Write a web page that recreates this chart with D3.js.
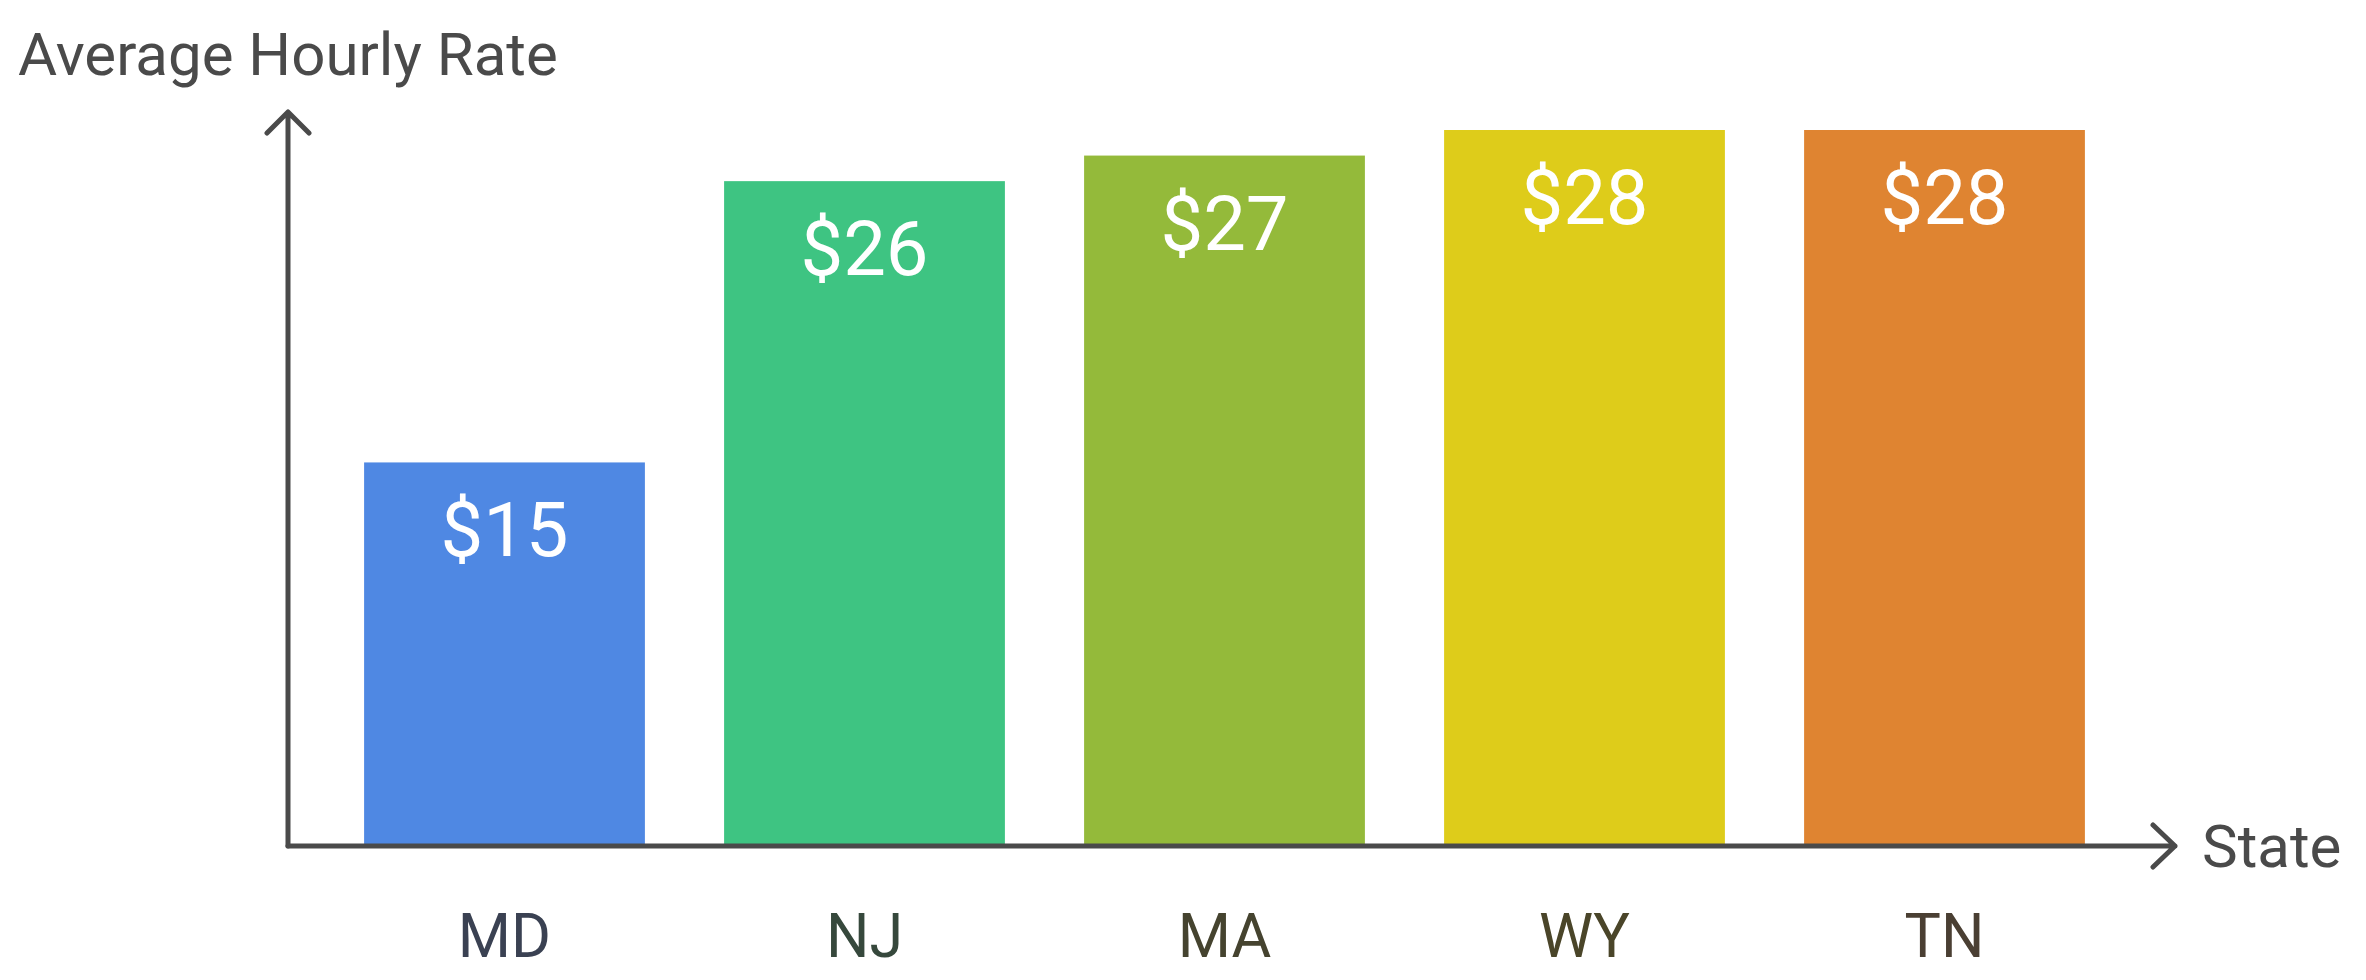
<!DOCTYPE html>
<html lang="en">
<head>
  <meta charset="UTF-8">
  <title>Average Hourly Rate by State</title>
  <script src="https://d3js.org/d3.v7.min.js"></script>
  <style>
    html, body {
      margin: 0;
      background: #fff;
    }
    svg {
      display: block;
    }
    text {
      font-family: Roboto, "Noto Sans", sans-serif;
    }
  </style>
</head>
<body>
  <svg width="2366" height="980"></svg>
  <script>
    // chart data
    const states = ["MD", "NJ", "MA", "WY", "TN"];
    const rates = [15, 26, 27, 28, 28];
    const rateLabels = ["$15", "$26", "$27", "$28", "$28"];
    const barColors = ["#4f88e3", "#3ec482", "#94ba3a", "#decc1a", "#df8431"];
    const labelColors = ["#3a4152", "#36483c", "#45432f", "#4a4529", "#4a3f33"];

    const axisColor = "#4a4a4a";
    const originX = 288, originY = 846;

    const svg = d3.select("svg");

    const x = d3.scaleBand()
      .domain(states)
      .range([324.5, 2124.5])
      .paddingInner(0.22)
      .paddingOuter(0.11);

    const y = d3.scaleLinear()
      .domain([0, 28])
      .range([originY, 130]);

    // bars
    svg.append("g")
      .selectAll("rect")
      .data(states)
      .enter().append("rect")
      .attr("x", d => x(d))
      .attr("y", (d, i) => y(rates[i]))
      .attr("width", x.bandwidth())
      .attr("height", (d, i) => y(0) - y(rates[i]))
      .attr("fill", (d, i) => barColors[i]);

    // value labels inside bars
    svg.append("g")
      .selectAll("text")
      .data(states)
      .enter().append("text")
      .attr("x", d => x(d) + x.bandwidth() / 2)
      .attr("y", (d, i) => y(rates[i]) + 94)
      .attr("text-anchor", "middle")
      .attr("font-size", 76)
      .attr("fill", "#fff")
      .text((d, i) => rateLabels[i]);

    // category labels
    svg.append("g")
      .selectAll("text")
      .data(states)
      .enter().append("text")
      .attr("x", d => x(d) + x.bandwidth() / 2)
      .attr("y", 957)
      .attr("text-anchor", "middle")
      .attr("font-size", 61)
      .attr("fill", (d, i) => labelColors[i])
      .text(d => d);

    // axes with open arrowheads
    const axes = svg.append("g")
      .attr("fill", "none")
      .attr("stroke", axisColor)
      .attr("stroke-width", 5)
      .attr("stroke-linecap", "round")
      .attr("stroke-linejoin", "round");

    axes.append("path")
      .attr("d", `M${originX},${originY} V112 M${originX - 21},133 L${originX},112 L${originX + 21},133`);

    axes.append("path")
      .attr("d", `M${originX},${originY} H2175 M2153,${originY - 21} L2175,${originY} L2153,${originY + 21}`);

    // axis titles
    svg.append("text")
      .attr("x", 18)
      .attr("y", 75)
      .attr("font-size", 60)
      .attr("fill", axisColor)
      .text("Average Hourly Rate");

    svg.append("text")
      .attr("x", 2202)
      .attr("y", 867)
      .attr("font-size", 60)
      .attr("fill", axisColor)
      .text("State");
  </script>
</body>
</html>
